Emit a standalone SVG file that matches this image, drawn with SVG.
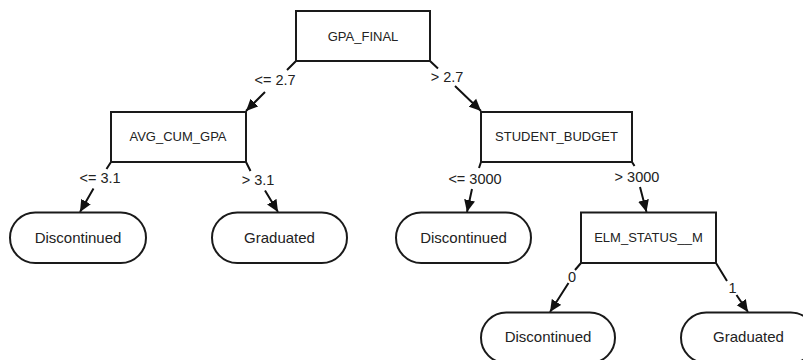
<svg xmlns="http://www.w3.org/2000/svg" width="803" height="360" viewBox="0 0 803 360">
<defs>
<marker id="arr" markerUnits="userSpaceOnUse" markerWidth="13" markerHeight="12" refX="12" refY="6" orient="auto">
<path d="M0,0.5 L12,6 L0,11.5 z" fill="#111"/>
</marker>
<style>
.box{fill:#fff;stroke:#1a1a1a;stroke-width:2}
.nt{font-family:"Liberation Sans",Arial,sans-serif;font-size:13px;fill:#222;text-anchor:middle}
.lt{font-family:"Liberation Sans",Arial,sans-serif;font-size:15px;fill:#222;text-anchor:middle}
.et{font-family:"Liberation Sans",Arial,sans-serif;font-size:14.5px;fill:#222;text-anchor:middle}
.edge{fill:none;stroke:#111;stroke-width:2;marker-end:url(#arr)}
</style>
</defs>
<rect width="803" height="360" fill="#fff"/>
<g id="connectors">
<path class="edge" d="M296,61 L287,70 M265,92 L246,111"/>
<text class="et" x="275" y="85">&lt;= 2.7</text>
<path class="edge" d="M430,61 L438,68.5 M455,86 L481,111"/>
<text class="et" x="447" y="82">&gt; 2.7</text>
<path class="edge" d="M111,162 L106.5,169 M93.5,188.5 L80,212"/>
<text class="et" x="100" y="183">&lt;= 3.1</text>
<path class="edge" d="M246,162 L250.5,171 M265,190.5 L278,212"/>
<text class="et" x="258" y="185">&gt; 3.1</text>
<path class="edge" d="M481,162 L479,168 M472,189 L467,212"/>
<text class="et" x="475" y="184">&lt;= 3000</text>
<path class="edge" d="M632,162 L634.5,166 M640,187 L646.5,212"/>
<text class="et" x="637" y="181.5">&gt; 3000</text>
<path class="edge" d="M581,263 L575,270 M568.5,283 L550,312"/>
<text class="et" x="572" y="281.5">0</text>
<path class="edge" d="M716,263 L727,281 M736.5,295 L748,312"/>
<text class="et" x="732.5" y="292.5">1</text>
</g>
<g id="n_gpa_final">
<rect class="box" x="296" y="11" width="134" height="50"/>
<text class="nt" x="363" y="40.5">GPA_FINAL</text>
</g>
<g id="n_avg_cum_gpa">
<rect class="box" x="111" y="112" width="135" height="50"/>
<text class="nt" x="178" y="141">AVG_CUM_GPA</text>
</g>
<g id="n_student_budget">
<rect class="box" x="481" y="112" width="151" height="50"/>
<text class="nt" x="556.5" y="141">STUDENT_BUDGET</text>
</g>
<g id="n_elm_status">
<rect class="box" x="581" y="212.5" width="135" height="50.5"/>
<text class="nt" x="648.5" y="241.5">ELM_STATUS__M</text>
</g>
<g id="n_disc1">
<rect class="box" x="10" y="212.5" width="136" height="50.5" rx="25.25"/>
<text class="lt" x="78" y="243">Discontinued</text>
</g>
<g id="n_grad1">
<rect class="box" x="212" y="212.5" width="135" height="50.5" rx="25.25"/>
<text class="lt" x="279.5" y="243">Graduated</text>
</g>
<g id="n_disc2">
<rect class="box" x="396" y="212.5" width="135" height="50.5" rx="25.25"/>
<text class="lt" x="463.5" y="243">Discontinued</text>
</g>
<g id="n_disc3">
<rect class="box" x="481" y="312.5" width="134" height="50.5" rx="25.25"/>
<text class="lt" x="548" y="342">Discontinued</text>
</g>
<g id="n_grad2">
<rect class="box" x="681" y="312.5" width="135" height="50.5" rx="25.25"/>
<text class="lt" x="748.5" y="342">Graduated</text>
</g>
</svg>
